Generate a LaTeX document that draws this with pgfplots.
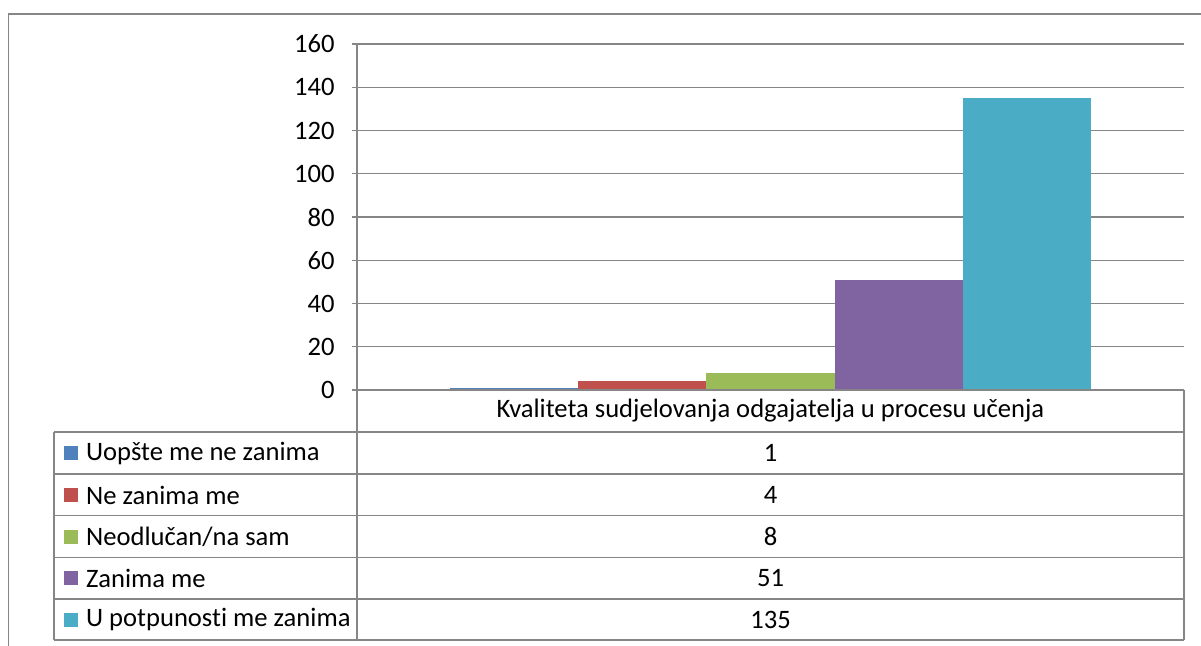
\documentclass[border=0pt]{standalone}
\usepackage{pgfplots}
\pgfplotsset{compat=1.18}
\usepackage{fontspec}
\setmainfont{Carlito}[Ligatures=NoCommon]
\usepackage{graphicx}

\definecolor{gridgray}{HTML}{868686}
\definecolor{s1}{HTML}{4F81BD}
\definecolor{s2}{HTML}{C0504D}
\definecolor{s3}{HTML}{9BBB59}
\definecolor{s4}{HTML}{8064A2}
\definecolor{s5}{HTML}{4BACC6}

\begin{document}
\begin{tikzpicture}[x=0.5pt,y=-0.5pt,font=\fontsize{13.3}{16}\selectfont]
\useasboundingbox (0,0) rectangle (1201,645);
% outer chart frame (cut off on right and bottom)
\draw[gridgray,line width=0.6pt] (8.5,660) -- (8.5,14) -- (1215,14);

\begin{axis}[
    at={(178.5pt,-195pt)}, anchor=south west,
    scale only axis, width=413.5pt, height=173pt,
    xmin=-0.5, xmax=0.5, ymin=0, ymax=160,
    ytick={0,20,...,160}, xtick=\empty,
    ymajorgrids, grid style={gridgray,line width=0.6pt},
    axis x line=none, axis y line*=left,
    y axis line style={gridgray,line width=0.6pt},
    ytick style={gridgray,line width=0.6pt},
    tick align=outside, major tick length=2.5pt,
    yticklabel style={xshift=-5.2pt},
    /pgf/number format/assume math mode=true,
    ybar, bar width=0.155, bar shift=0pt,
]
\addplot[fill=s1,draw=none] coordinates {(-0.31,1)};
\addplot[fill=s2,draw=none] coordinates {(-0.155,4)};
\addplot[fill=s3,draw=none] coordinates {(0,8)};
\addplot[fill=s4,draw=none] coordinates {(0.155,51)};
\addplot[fill=s5,draw=none] coordinates {(0.31,135)};
\end{axis}

% data table
\begin{scope}[gridgray,line width=0.6pt]
\draw (357,390) -- (1184,390);
\foreach \yy in {432,474,515.7,557.3,599,640} \draw (54,\yy) -- (1184,\yy);
\draw (54,432) -- (54,640);
\draw (357,390) -- (357,640);
\draw (1184,390) -- (1184,640);
\end{scope}

\node at (770.5,411) {Kvaliteta sudjelovanja odgajatelja u procesu učenja};

\foreach \c/\lab/\v/\yy in {s1/Uopšte me ne zanima/1/453, s2/Ne zanima me/4/495,
    s3/Neodlučan\slash na sam/8/536.5, s4/Zanima me/51/578, s5/U potpunosti me zanima/135/619.5} {
  \fill[\c] (63.5,\yy-7) rectangle (77.5,\yy+7);
  \node[anchor=west,inner sep=0pt] at (85.7,\yy) {\lab};
  \node at (770.5,\yy) {\v};
}
\end{tikzpicture}
\end{document}
